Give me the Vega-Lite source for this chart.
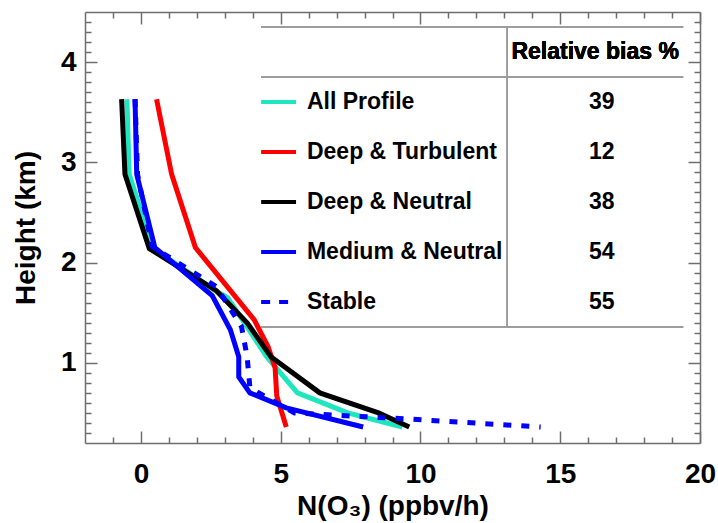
{
  "$schema": "https://vega.github.io/schema/vega-lite/v6.json",
  "width": 615,
  "height": 431,
  "autosize": {"type": "none"},
  "padding": {"left": 85, "top": 12, "right": 18, "bottom": 80},
  "background": "white",
  "config": {
    "view": {"stroke": null},
    "font": "Liberation Sans",
    "axis": {
      "grid": false,
      "domainColor": "#6e6e6e",
      "tickColor": "#6e6e6e",
      "domainWidth": 1.5,
      "tickWidth": 1.5,
      "labelFont": "Liberation Sans",
      "labelFontWeight": "bold",
      "labelFontSize": 28,
      "labelColor": "#000000",
      "labelFlush": false,
      "labelOverlap": false,
      "titleFont": "Liberation Sans",
      "titleFontWeight": "bold",
      "titleFontSize": 28,
      "titleColor": "#000000"
    }
  },
  "datasets": {
    "profiles": [
      {"profile": "All Profile", "rate": -0.5, "height": 3.63},
      {"profile": "All Profile", "rate": -0.42, "height": 2.88},
      {"profile": "All Profile", "rate": 0.45, "height": 2.14},
      {"profile": "All Profile", "rate": 2.6, "height": 1.73},
      {"profile": "All Profile", "rate": 3.1, "height": 1.65},
      {"profile": "All Profile", "rate": 3.7, "height": 1.4},
      {"profile": "All Profile", "rate": 4.5, "height": 1.06},
      {"profile": "All Profile", "rate": 5.6, "height": 0.7},
      {"profile": "All Profile", "rate": 7.4, "height": 0.5},
      {"profile": "All Profile", "rate": 9.35, "height": 0.36},

      {"profile": "Deep & Turbulent", "rate": 0.56, "height": 3.63},
      {"profile": "Deep & Turbulent", "rate": 1.1, "height": 2.88},
      {"profile": "Deep & Turbulent", "rate": 1.95, "height": 2.15},
      {"profile": "Deep & Turbulent", "rate": 4.05, "height": 1.43},
      {"profile": "Deep & Turbulent", "rate": 4.55, "height": 1.16},
      {"profile": "Deep & Turbulent", "rate": 4.8, "height": 0.95},
      {"profile": "Deep & Turbulent", "rate": 4.86, "height": 0.67},
      {"profile": "Deep & Turbulent", "rate": 5.2, "height": 0.36},

      {"profile": "Deep & Neutral", "rate": -0.69, "height": 3.63},
      {"profile": "Deep & Neutral", "rate": -0.57, "height": 2.88},
      {"profile": "Deep & Neutral", "rate": 0.3, "height": 2.14},
      {"profile": "Deep & Neutral", "rate": 2.7, "height": 1.72},
      {"profile": "Deep & Neutral", "rate": 3.8, "height": 1.4},
      {"profile": "Deep & Neutral", "rate": 4.65, "height": 1.06},
      {"profile": "Deep & Neutral", "rate": 6.4, "height": 0.7},
      {"profile": "Deep & Neutral", "rate": 8.5, "height": 0.5},
      {"profile": "Deep & Neutral", "rate": 9.6, "height": 0.36},

      {"profile": "Medium & Neutral", "rate": -0.21, "height": 3.63},
      {"profile": "Medium & Neutral", "rate": -0.15, "height": 2.88},
      {"profile": "Medium & Neutral", "rate": 0.5, "height": 2.15},
      {"profile": "Medium & Neutral", "rate": 2.55, "height": 1.67},
      {"profile": "Medium & Neutral", "rate": 3.2, "height": 1.33},
      {"profile": "Medium & Neutral", "rate": 3.5, "height": 1.06},
      {"profile": "Medium & Neutral", "rate": 3.5, "height": 0.86},
      {"profile": "Medium & Neutral", "rate": 3.9, "height": 0.7},
      {"profile": "Medium & Neutral", "rate": 5.2, "height": 0.55},
      {"profile": "Medium & Neutral", "rate": 7.95, "height": 0.36},

      {"profile": "Stable", "rate": -0.21, "height": 3.63},
      {"profile": "Stable", "rate": -0.12, "height": 2.88},
      {"profile": "Stable", "rate": 0.4, "height": 2.16},
      {"profile": "Stable", "rate": 2.7, "height": 1.76},
      {"profile": "Stable", "rate": 3.6, "height": 1.36},
      {"profile": "Stable", "rate": 3.8, "height": 1.06},
      {"profile": "Stable", "rate": 3.9, "height": 0.75},
      {"profile": "Stable", "rate": 5.5, "height": 0.5},
      {"profile": "Stable", "rate": 9.5, "height": 0.44},
      {"profile": "Stable", "rate": 14.3, "height": 0.36}
    ],
    "bias": [
      {"profile": "All Profile", "bias": 39},
      {"profile": "Deep & Turbulent", "bias": 12},
      {"profile": "Deep & Neutral", "bias": 38},
      {"profile": "Medium & Neutral", "bias": 54},
      {"profile": "Stable", "bias": 55}
    ]
  },
  "layer": [
    {
      "data": {"name": "profiles"},
      "layer": [
        {
          "transform": [{"filter": "datum.profile === 'All Profile'"}],
          "mark": {"type": "line", "strokeWidth": 5},
          "encoding": {
            "x": {"field": "rate", "type": "quantitative",
              "scale": {"domain": [-2, 20], "nice": false, "zero": false},
              "axis": {"orient": "bottom", "values": [0, 5, 10, 15, 20], "ticks": false, "domain": false,
                "labelPadding": 17, "title": "N(O₃) (ppbv/h)", "titlePadding": 4}},
            "y": {"field": "height", "type": "quantitative",
              "scale": {"domain": [0.2, 4.5], "nice": false, "zero": false},
              "axis": {"orient": "left", "values": [1, 2, 3, 4], "ticks": false, "domain": false,
                "labelPadding": 9, "title": "Height (km)", "titlePadding": 20}},
            "color": {"field": "profile", "type": "nominal",
              "scale": {"domain": ["All Profile", "Deep & Turbulent", "Deep & Neutral", "Medium & Neutral", "Stable"],
                "range": ["#1ee6bf", "#ff0000", "#000000", "#0000ff", "#0000ff"]},
              "legend": null},
            "order": {"value": null}
          }
        },
        {
          "transform": [{"filter": "datum.profile === 'Deep & Turbulent'"}],
          "mark": {"type": "line", "strokeWidth": 5},
          "encoding": {
            "x": {"field": "rate", "type": "quantitative",
              "axis": {"orient": "bottom", "values": [0, 5, 10, 15, 20], "tickSize": -12, "labels": false, "domain": false, "title": null}},
            "y": {"field": "height", "type": "quantitative",
              "axis": {"orient": "left", "values": [1, 2, 3, 4], "tickSize": -12, "labels": false, "domain": false, "title": null}},
            "color": {"field": "profile", "type": "nominal", "legend": null},
            "order": {"value": null}
          }
        },
        {
          "transform": [{"filter": "datum.profile === 'Deep & Neutral'"}],
          "mark": {"type": "line", "strokeWidth": 5},
          "encoding": {
            "x": {"field": "rate", "type": "quantitative",
              "axis": {"orient": "bottom", "values": [-1, 1, 2, 3, 4, 6, 7, 8, 9, 11, 12, 13, 14, 16, 17, 18, 19], "tickSize": -6, "labels": false, "title": null}},
            "y": {"field": "height", "type": "quantitative",
              "axis": {"orient": "left", "values": [0.3, 0.4, 0.5, 0.6, 0.7, 0.8, 0.9, 1.1, 1.2, 1.3, 1.4, 1.5, 1.6, 1.7, 1.8, 1.9, 2.1, 2.2, 2.3, 2.4, 2.5, 2.6, 2.7, 2.8, 2.9, 3.1, 3.2, 3.3, 3.4, 3.5, 3.6, 3.7, 3.8, 3.9, 4.1, 4.2, 4.3, 4.4], "tickSize": -6, "labels": false, "title": null}},
            "color": {"field": "profile", "type": "nominal", "legend": null},
            "order": {"value": null}
          }
        },
        {
          "transform": [{"filter": "datum.profile === 'Medium & Neutral'"}],
          "mark": {"type": "line", "strokeWidth": 5},
          "encoding": {
            "x": {"field": "rate", "type": "quantitative",
              "axis": {"orient": "top", "values": [0, 5, 10, 15, 20], "tickSize": -12, "labels": false, "domain": false, "title": null}},
            "y": {"field": "height", "type": "quantitative",
              "axis": {"orient": "right", "values": [1, 2, 3, 4], "tickSize": -12, "labels": false, "domain": false, "title": null}},
            "color": {"field": "profile", "type": "nominal", "legend": null},
            "order": {"value": null}
          }
        },
        {
          "transform": [{"filter": "datum.profile === 'Stable'"}],
          "mark": {"type": "line", "strokeWidth": 5, "strokeDash": [8, 10]},
          "encoding": {
            "x": {"field": "rate", "type": "quantitative",
              "axis": {"orient": "top", "values": [-1, 1, 2, 3, 4, 6, 7, 8, 9, 11, 12, 13, 14, 16, 17, 18, 19], "tickSize": -6, "labels": false, "title": null}},
            "y": {"field": "height", "type": "quantitative",
              "axis": {"orient": "right", "values": [0.3, 0.4, 0.5, 0.6, 0.7, 0.8, 0.9, 1.1, 1.2, 1.3, 1.4, 1.5, 1.6, 1.7, 1.8, 1.9, 2.1, 2.2, 2.3, 2.4, 2.5, 2.6, 2.7, 2.8, 2.9, 3.1, 3.2, 3.3, 3.4, 3.5, 3.6, 3.7, 3.8, 3.9, 4.1, 4.2, 4.3, 4.4], "tickSize": -6, "labels": false, "title": null}},
            "color": {"field": "profile", "type": "nominal", "legend": null},
            "order": {"value": null}
          }
        }
      ],
      "resolve": {"axis": {"x": "independent", "y": "independent"}}
    },
    {
      "data": {"name": "bias"},
      "layer": [
        {
          "mark": {"type": "rule", "color": "#9a9a9a", "strokeWidth": 1},
          "encoding": {
            "x": {"datum": 4.3, "type": "quantitative", "axis": null},
            "x2": {"datum": 19.4},
            "y": {"datum": "header", "type": "nominal", "bandPosition": 0,
              "scale": {"type": "band", "domain": ["header", "All Profile", "Deep & Turbulent", "Deep & Neutral", "Medium & Neutral", "Stable"],
                "range": [15, 315], "paddingInner": 0, "paddingOuter": 0},
              "axis": null}
          }
        },
        {
          "mark": {"type": "rule", "color": "#9a9a9a", "strokeWidth": 1},
          "encoding": {
            "x": {"datum": 4.3, "type": "quantitative", "axis": null},
            "x2": {"datum": 19.4},
            "y": {"datum": "All Profile", "type": "nominal", "bandPosition": 0, "axis": null}
          }
        },
        {
          "mark": {"type": "rule", "color": "#9a9a9a", "strokeWidth": 1},
          "encoding": {
            "x": {"datum": 4.3, "type": "quantitative", "axis": null},
            "x2": {"datum": 19.4},
            "y": {"datum": "Stable", "type": "nominal", "bandPosition": 1, "axis": null}
          }
        },
        {
          "mark": {"type": "rule", "color": "#9a9a9a", "strokeWidth": 1},
          "encoding": {
            "x": {"datum": 13.1, "type": "quantitative", "axis": null},
            "y": {"datum": "header", "type": "nominal", "bandPosition": 0, "axis": null},
            "y2": {"datum": "Stable", "bandPosition": 1}
          }
        },
        {
          "mark": {"type": "rule", "strokeWidth": 4},
          "encoding": {
            "x": {"datum": 4.3, "type": "quantitative", "axis": null},
            "x2": {"datum": 5.55},
            "y": {"field": "profile", "type": "nominal", "bandPosition": 0.5, "axis": null},
            "color": {"field": "profile", "type": "nominal", "legend": null},
            "strokeDash": {"field": "profile", "type": "nominal",
              "scale": {"domain": ["All Profile", "Deep & Turbulent", "Deep & Neutral", "Medium & Neutral", "Stable"],
                "range": [[1, 0], [1, 0], [1, 0], [1, 0], [9, 9]]},
              "legend": null}
          }
        },
        {
          "mark": {"type": "text", "align": "left", "baseline": "middle", "font": "Liberation Sans", "fontWeight": "bold", "fontSize": 23, "color": "#000000"},
          "encoding": {
            "x": {"datum": 5.94, "type": "quantitative", "axis": null},
            "y": {"field": "profile", "type": "nominal", "bandPosition": 0.5, "axis": null},
            "text": {"field": "profile"}
          }
        },
        {
          "mark": {"type": "text", "align": "center", "baseline": "middle", "font": "Liberation Sans", "fontWeight": "bold", "fontSize": 23, "color": "#000000"},
          "encoding": {
            "x": {"datum": 16.49, "type": "quantitative", "axis": null},
            "y": {"field": "profile", "type": "nominal", "bandPosition": 0.5, "axis": null},
            "text": {"field": "bias"}
          }
        },
        {
          "mark": {"type": "text", "align": "center", "baseline": "middle", "font": "Liberation Sans", "fontWeight": "bold", "fontSize": 23, "color": "#000000", "text": "Relative bias %"},
          "encoding": {
            "x": {"datum": 16.25, "type": "quantitative", "axis": null},
            "y": {"datum": "header", "type": "nominal", "bandPosition": 0.5, "axis": null}
          }
        }
      ]
    }
  ],
  "resolve": {"scale": {"y": "independent"}, "axis": {"x": "independent", "y": "independent"}}
}
